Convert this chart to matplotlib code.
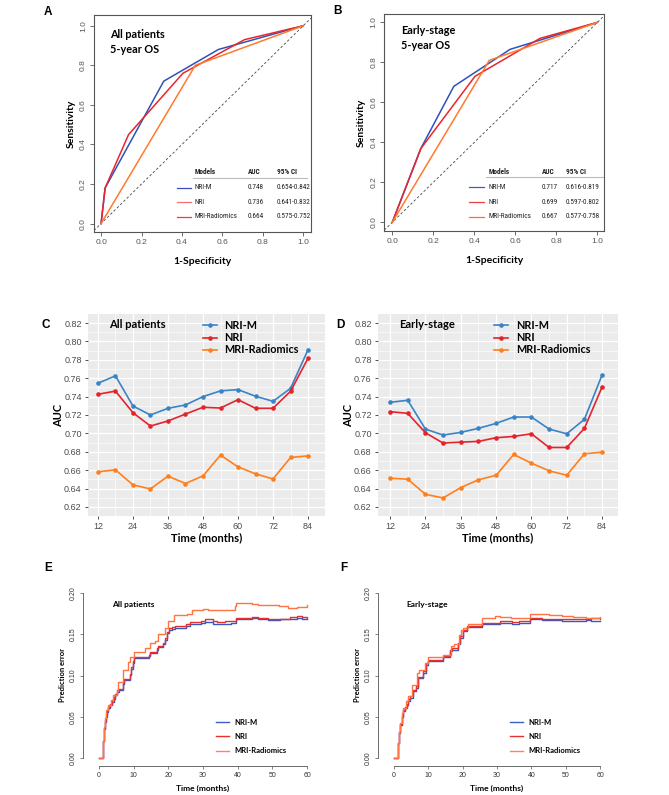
import matplotlib
matplotlib.use('Agg')
import matplotlib.pyplot as plt
from matplotlib.lines import Line2D
from matplotlib import font_manager as fm
from matplotlib.ticker import MultipleLocator

# ---------------- data ----------------
models = ['NRI-M', 'NRI', 'MRI-Radiomics']

# Panel A ROC (all patients)
A_nrim_fpr = [0, 0.02, 0.31, 0.58, 0.72, 1.0]
A_nrim_tpr = [0, 0.18, 0.72, 0.88, 0.92, 1.0]
A_nri_fpr = [0, 0.02, 0.136, 0.405, 0.71, 1.0]
A_nri_tpr = [0, 0.18, 0.45, 0.76, 0.93, 1.0]
A_rad_fpr = [0, 0.466, 1.0]
A_rad_tpr = [0, 0.80, 1.0]
A_auc = ['0.748', '0.736', '0.664']
A_ci = ['0.654-0.842', '0.641-0.832', '0.575-0.752']

# Panel B ROC (early stage)
B_nrim_fpr = [0, 0.138, 0.30, 0.574, 1.0]
B_nrim_tpr = [0, 0.367, 0.68, 0.865, 1.0]
B_nri_fpr = [0, 0.14, 0.403, 0.72, 1.0]
B_nri_tpr = [0, 0.37, 0.73, 0.92, 1.0]
B_rad_fpr = [0, 0.473, 1.0]
B_rad_tpr = [0, 0.81, 1.0]
B_auc = ['0.717', '0.699', '0.667']
B_ci = ['0.616-0.819', '0.597-0.802', '0.577-0.758']

# Panels C/D time-dependent AUC
months = [12, 18, 24, 30, 36, 42, 48, 54, 60, 66, 72, 78, 84]
C_nrim = [0.7545, 0.7626, 0.7298, 0.7200, 0.7273, 0.7309, 0.7400, 0.7462, 0.7476, 0.7404, 0.7349, 0.7490, 0.7910]
C_nri = [0.7425, 0.7460, 0.7225, 0.7080, 0.7135, 0.7210, 0.7284, 0.7276, 0.7367, 0.7273, 0.7273, 0.7458, 0.7818]
C_rad = [0.6582, 0.6604, 0.6440, 0.6396, 0.6535, 0.6455, 0.6538, 0.6764, 0.6636, 0.6560, 0.6505, 0.6738, 0.6756]
D_nrim = [0.7338, 0.7360, 0.7047, 0.6982, 0.7011, 0.7055, 0.7109, 0.7178, 0.7178, 0.7047, 0.6996, 0.7153, 0.7636]
D_nri = [0.7236, 0.7218, 0.7007, 0.6895, 0.6905, 0.6913, 0.6953, 0.6967, 0.6996, 0.6847, 0.6847, 0.7055, 0.7505]
D_rad = [0.6513, 0.6502, 0.6338, 0.6298, 0.6411, 0.6495, 0.6545, 0.6771, 0.6676, 0.6593, 0.6545, 0.6778, 0.6796]

# Panel E prediction error (all patients)
E_time = [0, 1.3, 1.5, 1.7, 2.0, 2.4, 2.7, 3.2, 3.7, 4.2, 4.7, 5.3, 5.7, 6.8, 7.3, 8.9, 9.3, 9.8, 10.2,
          14.4, 14.7, 16.6, 17.0, 18.5, 19.0, 19.5, 20.2, 21.0, 21.9, 25.0, 26.2, 29.5, 30.5, 33.0,
          34.0, 36.3, 38.0, 39.5, 44.0, 46.0, 48.8, 52.2, 55.0, 57.0, 58.5, 60]
E_nrim = [0, 0.020, 0.035, 0.044, 0.050, 0.056, 0.060, 0.064, 0.068, 0.072, 0.076, 0.080, 0.083, 0.090,
          0.095, 0.101, 0.108, 0.115, 0.121, 0.124, 0.127, 0.131, 0.134, 0.138, 0.143, 0.151, 0.155,
          0.156, 0.157, 0.160, 0.163, 0.164, 0.165, 0.162, 0.163, 0.162, 0.164, 0.169, 0.170, 0.169,
          0.167, 0.168, 0.169, 0.170, 0.169, 0.169]
E_nri = [0, 0.020, 0.036, 0.046, 0.052, 0.058, 0.062, 0.066, 0.070, 0.074, 0.078, 0.082, 0.084, 0.092,
         0.096, 0.102, 0.110, 0.117, 0.122, 0.125, 0.128, 0.133, 0.136, 0.140, 0.146, 0.153, 0.157,
         0.159, 0.160, 0.162, 0.165, 0.166, 0.168, 0.166, 0.165, 0.166, 0.166, 0.170, 0.171, 0.170,
         0.168, 0.169, 0.171, 0.172, 0.171, 0.170]
E_rad_time = [0, 1.3, 1.5, 1.7, 2.0, 2.7, 3.4, 4.1, 5.1, 5.6, 7.0, 8.5, 8.9, 10.2, 13.3, 14.7, 16.2,
              17.1, 19.0, 20.0, 21.7, 25.5, 26.7, 30.0, 31.5, 33.5, 36.5, 39.2, 39.6, 44.0, 46.0,
              49.0, 52.0, 54.5, 57.0, 60]
E_rad = [0, 0.020, 0.038, 0.048, 0.058, 0.064, 0.070, 0.076, 0.081, 0.0925, 0.1067, 0.1168, 0.1228,
         0.129, 0.133, 0.139, 0.142, 0.150, 0.157, 0.166, 0.173, 0.174, 0.179, 0.181, 0.180, 0.179,
         0.179, 0.184, 0.1875, 0.187, 0.186, 0.185, 0.184, 0.182, 0.183, 0.185]

# Panel F prediction error (early stage)
F_time = [0, 1.3, 1.5, 1.75, 2.2, 2.7, 3.2, 3.7, 4.2, 4.7, 5.6, 6.4, 7.1, 8.5, 9.3, 10.0, 14.4, 16.3,
          17.0, 18.7, 19.2, 20.0, 21.4, 25.5, 30.9, 34.3, 36.5, 39.6, 43.0, 48.8, 52.0, 56.0, 57.5, 60]
F_nrim = [0, 0.018, 0.030, 0.040, 0.050, 0.0565, 0.060, 0.0646, 0.069, 0.0728, 0.081, 0.085, 0.097,
          0.103, 0.113, 0.1175, 0.123, 0.1297, 0.131, 0.138, 0.146, 0.154, 0.159, 0.163, 0.164, 0.163,
          0.164, 0.168, 0.167, 0.166, 0.166, 0.167, 0.166, 0.166]
F_nri = [0, 0.018, 0.031, 0.041, 0.051, 0.058, 0.062, 0.066, 0.071, 0.075, 0.082, 0.087, 0.098, 0.105,
         0.115, 0.119, 0.124, 0.131, 0.133, 0.140, 0.148, 0.155, 0.160, 0.164, 0.166, 0.165, 0.166,
         0.170, 0.169, 0.168, 0.168, 0.169, 0.170, 0.169]
F_rad_time = [0, 1.3, 1.5, 1.75, 2.2, 2.7, 3.4, 4.2, 5.2, 6.8, 7.4, 9.0, 10.0, 14.4, 16.5, 17.5, 19.0,
              19.6, 20.2, 21.6, 25.5, 29.4, 31.0, 34.0, 39.6, 45.0, 48.8, 52.0, 56.0, 60]
F_rad = [0, 0.018, 0.032, 0.042, 0.054, 0.060, 0.069, 0.075, 0.089, 0.103, 0.107, 0.115, 0.122, 0.125,
         0.136, 0.138, 0.149, 0.155, 0.158, 0.163, 0.1703, 0.1724, 0.171, 0.170, 0.174, 0.173, 0.172,
         0.1707, 0.170, 0.171]

roc_ticks = [0.0, 0.2, 0.4, 0.6, 0.8, 1.0]
auc_yticks = [0.62, 0.64, 0.66, 0.68, 0.70, 0.72, 0.74, 0.76, 0.78, 0.80, 0.82]
auc_xticks = [12, 24, 36, 48, 60, 72, 84]
pe_yticks = [0.00, 0.05, 0.10, 0.15, 0.20]
pe_xticks = [0, 10, 20, 30, 40, 50, 60]

# ---------------- style ----------------
names = {f.name for f in fm.fontManager.ttflist}
LAB = 'Lato' if 'Lato' in names else 'DejaVu Sans'
TICK = 'Liberation Sans'

NARROW, NSTRETCH, NSIZE = 'Liberation Sans', 'normal', 4.4
for cand in ['Liberation Sans Narrow', 'Arial Narrow', 'Roboto Condensed', 'Open Sans Condensed',
             'Noto Sans Condensed', 'DejaVu Sans Condensed']:
    if cand in names:
        NARROW, NSTRETCH, NSIZE = cand, 'normal', 5.2
        break
else:
    for f in fm.fontManager.ttflist:
        if f.name in ('DejaVu Sans', 'Noto Sans', 'Open Sans', 'Roboto') and \
                str(f.stretch) in ('condensed', 'semi-condensed', '75', '87'):
            NARROW, NSTRETCH, NSIZE = f.name, f.stretch, 5.0
            break

W, H = 669, 795
fig = plt.figure(figsize=(W / 100, H / 100), dpi=100)


def rect(l, t, r, b):
    return [l / W, 1 - b / H, (r - l) / W, (b - t) / H]


roc_col = ['#2f52b8', '#e8262b', '#ff7a2e']
auc_col = ['#3a84c6', '#e3242b', '#ff7f1e']
pe_col = ['#3558c4', '#e32f2f', '#ff7442']

# ---------------- ROC panels ----------------


def roc_panel(r, xl, yl, curves, auc, ci, title, leg_cols, tx, ty, tab):
    ax = fig.add_axes(r)
    ax.set_xlim(*xl)
    ax.set_ylim(*yl)
    ax.axline((0, 0), (1, 1), color='#444444', ls=(0, (3, 2.5)), lw=0.6)
    for (fx, fy), c in zip(curves, roc_col):
        ax.plot(fx, fy, color=c, lw=1.1, solid_joinstyle='miter')
    ax.set_xticks(roc_ticks)
    ax.set_xticklabels([f'{v:.1f}' for v in roc_ticks], fontsize=6, family=TICK, color='#333333')
    ax.set_yticks(roc_ticks)
    ax.set_yticklabels([f'{v:.1f}' for v in roc_ticks], fontsize=6, family=TICK, color='#333333',
                       rotation=90, va='center')
    ax.tick_params(length=3, width=0.6, colors='#555555', pad=2)
    for s in ax.spines.values():
        s.set_color('#555555')
        s.set_linewidth(0.8)
    ax.set_xlabel('1-Specificity', fontsize=7.5, family=LAB, fontweight='bold', labelpad=8)
    ax.set_ylabel('Sensitivity', fontsize=7.5, family=LAB, fontweight='bold', labelpad=3)
    ax.text(tx, ty, title, fontsize=7.8, family=LAB, fontweight='bold', va='top', ha='left',
            linespacing=1.45)
    # table legend
    xm, xa, xc, yh, yline, ys, lx0, lx1, lxe = tab
    kw = dict(fontsize=NSIZE, family=NARROW, fontstretch=NSTRETCH, va='center', color='#222222')
    ax.text(xm, yh, 'Models', fontweight='bold', **kw)
    ax.text(xa, yh, 'AUC', fontweight='bold', **kw)
    ax.text(xc, yh, '95% CI', fontweight='bold', **kw)
    ax.plot([lx0 + 0.08, lxe], [yline, yline], color='#bbbbbb', lw=0.8)
    for i in range(3):
        ax.plot([lx0, lx1], [ys[i], ys[i]], color=leg_cols[i], lw=0.9)
        ax.text(xm, ys[i], models[i], **kw)
        ax.text(xa, ys[i], auc[i], **kw)
        ax.text(xc, ys[i], ci[i], **kw)
    return ax


roc_panel(rect(94, 14.7, 311.3, 232.3), (-0.035, 1.04), (-0.044, 1.056),
          [(A_nrim_fpr, A_nrim_tpr), (A_nri_fpr, A_nri_tpr), (A_rad_fpr, A_rad_tpr)],
          A_auc, A_ci, 'All patients\n5-year OS', ['#3a4fc0', '#ff6a6a', '#ff3535'],
          0.045, 0.985,
          (0.462, 0.725, 0.868, 0.262, 0.232, [0.18, 0.108, 0.035], 0.375, 0.445, 1.02))
roc_panel(rect(384.3, 14, 604.3, 230.7), (-0.039, 1.034), (-0.042, 1.042),
          [(B_nrim_fpr, B_nrim_tpr), (B_nri_fpr, B_nri_tpr), (B_rad_fpr, B_rad_tpr)],
          B_auc, B_ci, 'Early-stage\n5-year OS', ['#3a5fc8', '#e84040', '#ff6a35'],
          0.044, 0.985,
          (0.468, 0.73, 0.845, 0.252, 0.225, [0.175, 0.10, 0.027], 0.375, 0.445, 1.03))

# ---------------- AUC over time panels ----------------


def auc_panel(r, xl, series, title, leg_x):
    ax = fig.add_axes(r)
    ax.set_facecolor('#ebebeb')
    ax.set_xlim(*xl)
    ax.set_ylim(0.6102, 0.8298)
    ax.set_xticks(auc_xticks)
    ax.set_xticklabels([str(v) for v in auc_xticks], fontsize=6.5, family=TICK, color='#4d4d4d')
    ax.set_yticks(auc_yticks)
    ax.set_yticklabels([f'{v:.2f}' for v in auc_yticks], fontsize=6.5, family=TICK, color='#4d4d4d')
    ax.xaxis.set_minor_locator(MultipleLocator(6))
    ax.yaxis.set_minor_locator(MultipleLocator(0.01))
    ax.grid(which='major', color='white', lw=0.9)
    ax.grid(which='minor', color='white', lw=0.45)
    ax.set_axisbelow(True)
    ax.tick_params(which='major', length=2.5, width=0.6, colors='#333333', pad=2)
    ax.tick_params(which='major', labelcolor='#4d4d4d')
    ax.tick_params(which='minor', length=0)
    for s in ax.spines.values():
        s.set_visible(False)
    handles = []
    for vals, c, m in zip(series, auc_col, models):
        ax.plot(months, vals, color=c, lw=1.2, marker='o', ms=2.3, mec=c)
        handles.append(Line2D([], [], color=c, lw=1.2, marker='o', ms=2.3))
    ax.legend(handles, models, loc='upper left', bbox_to_anchor=(leg_x, 0.985), frameon=False,
              prop=dict(family=LAB, weight='bold', size=7.8), handlelength=1.3, handletextpad=0.7,
              labelspacing=0.1, borderpad=0.3, borderaxespad=0)
    ax.text(0.09, 0.947, title, transform=ax.transAxes, fontsize=8, family=LAB, fontweight='bold',
            va='center', ha='left')
    ax.set_xlabel('Time (months)', fontsize=8, family=LAB, fontweight='bold', labelpad=1)
    ax.set_ylabel('AUC', fontsize=8, family=LAB, fontweight='bold', labelpad=0)
    return ax


auc_panel(rect(88, 314, 325, 516), (8.6, 89.8), [C_nrim, C_nri, C_rad], 'All patients', 0.47)
auc_panel(rect(378, 314, 618, 516), (7.9, 89.4), [D_nrim, D_nri, D_rad], 'Early-stage', 0.47)

# ---------------- Prediction error panels ----------------


def pe_panel(r, xl, series, title, leg_x):
    ax = fig.add_axes(r)
    ax.set_xlim(*xl)
    ax.set_ylim(-0.0097, 0.2097)
    for (t, v), c in zip(series, pe_col):
        ax.plot(t, v, color=c, lw=1.0, drawstyle='steps-post')
    ax.spines['top'].set_visible(False)
    ax.spines['right'].set_visible(False)
    ax.spines['left'].set_bounds(0, 0.2)
    ax.spines['bottom'].set_bounds(0, 60)
    for s in ('left', 'bottom'):
        ax.spines[s].set_color('#555555')
        ax.spines[s].set_linewidth(0.6)
    ax.set_xticks(pe_xticks)
    ax.set_xticklabels([str(v) for v in pe_xticks], fontsize=5, family=TICK, color='#333333')
    ax.set_yticks(pe_yticks)
    ax.set_yticklabels([f'{v:.2f}' for v in pe_yticks], fontsize=5, family=TICK, color='#333333',
                       rotation=90, va='center')
    ax.tick_params(length=2.5, width=0.5, colors='#555555', pad=2)
    ax.tick_params(labelcolor='#333333')
    ax.set_xlabel('Time (months)', fontsize=6, family=LAB, fontweight='bold', labelpad=4)
    ax.set_ylabel('Prediction error', fontsize=5.5, family=LAB, fontweight='bold', labelpad=3)
    ax.text(0.12, 0.89, title, transform=ax.transAxes, fontsize=6, family=LAB, fontweight='bold',
            va='center', ha='left')
    leg_cols = ['#3a5fc8', '#e83030', '#ff8070']
    handles = [Line2D([], [], color=c, lw=1.0) for c in leg_cols]
    ax.legend(handles, models, loc='lower left', bbox_to_anchor=(leg_x, 0.065), frameon=False,
              prop=dict(family=LAB, weight='bold', size=5.5), handlelength=1.7, handletextpad=0.7,
              labelspacing=0.95, borderpad=0, borderaxespad=0)
    return ax


pe_panel(rect(83, 585, 323, 766), (-4.6, 64.6),
         [(E_time, E_nrim), (E_time, E_nri), (E_rad_time, E_rad)], 'All patients', 0.555)
pe_panel(rect(378, 585, 616, 766), (-4.66, 64.66),
         [(F_time, F_nrim), (F_time, F_nri), (F_rad_time, F_rad)], 'Early-stage', 0.555)

# ---------------- panel letters ----------------
for lab, x, y in [('A', 48, 12), ('B', 337, 11), ('C', 46, 325), ('D', 340, 325),
                  ('E', 48, 568), ('F', 344, 568)]:
    fig.text(x / W, 1 - y / H, lab, fontsize=8.5, family=TICK, fontweight='bold',
             ha='center', va='center')

fig.savefig('out.png', dpi=100)
